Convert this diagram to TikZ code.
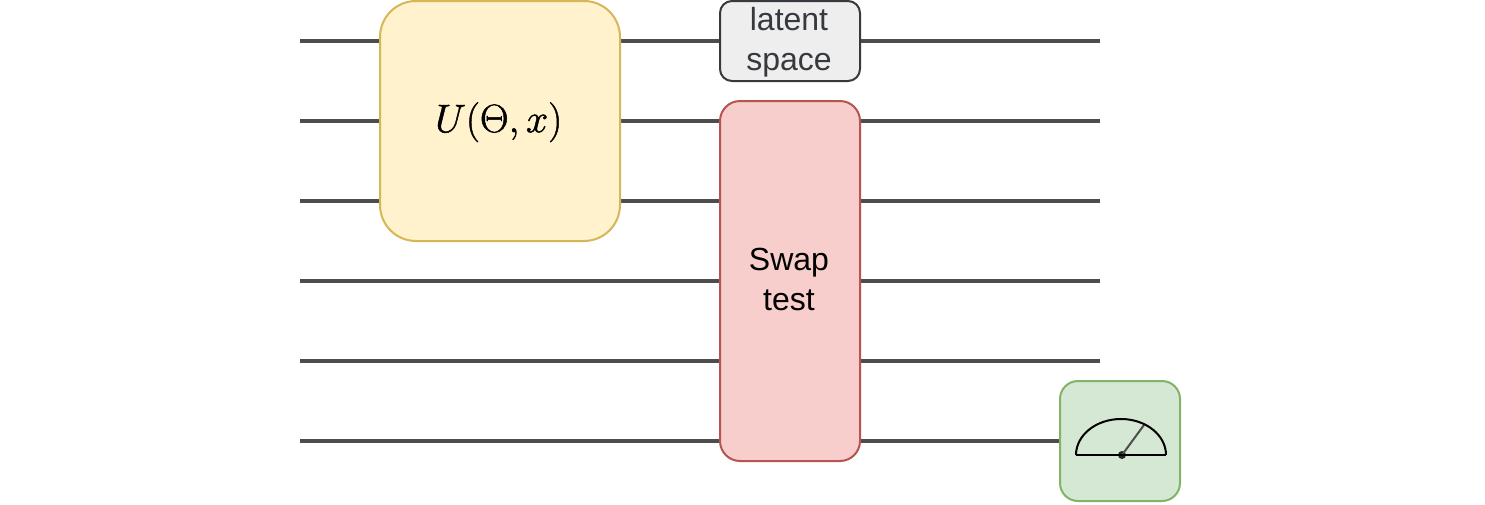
\documentclass[tikz,border=0pt]{standalone}
\usepackage{fontspec}
\setmainfont{Liberation Sans}
\usetikzlibrary{backgrounds}
\definecolor{wirecol}{HTML}{4D4D4D}
\definecolor{gatefill}{HTML}{FFF2CC}
\definecolor{gateline}{HTML}{D6B656}
\definecolor{swapfill}{HTML}{F8CECC}
\definecolor{swapline}{HTML}{B85450}
\definecolor{measfill}{HTML}{D5E8D4}
\definecolor{measline}{HTML}{82B366}
\definecolor{latentfill}{HTML}{EEEEEE}
\definecolor{latentline}{HTML}{36393D}
\tikzset{
  wire/.style={draw=wirecol, line width=3pt},
  box/.style={draw, line width=1.5pt, outer sep=0pt, inner sep=0pt},
  boxtext/.style={inner sep=0pt, align=center, font=\fontsize{24}{30}\selectfont},
}
\newcommand{\qwire}[1]{
  \coordinate (in#1) at (300, #1);
  \coordinate (out#1) at (1100, #1);
  \draw[wire] (in#1) -- (out#1);}
\newcommand{\heavy}[1]{\special{pdf:code q 2 Tr 0.3 w}#1\special{pdf:code Q}}
\begin{document}
\begin{tikzpicture}[x=0.75pt, y=-0.75pt]
        \useasboundingbox (0,0) rectangle (1485,504);
        % gates
        \node[box, draw=gateline, fill=gatefill, minimum width=180pt, minimum height=180pt, rounded corners=27pt, label={[boxtext, scale=1.2, xshift=-0.75pt, yshift=-0.75pt]center:{\heavy{$U(\Theta, x)$}}}] (unitary) at (500,121) {};
        \node[box, draw=latentline, fill=latentfill, minimum width=105pt, minimum height=60pt, rounded corners=9pt, label={[boxtext, text=latentline, xshift=-0.75pt, yshift=-0.9pt]center:{latent\\space}}] (latent) at (790,41) {};
        \node[box, draw=swapline, fill=swapfill, minimum width=105pt, minimum height=270pt, rounded corners=15pt, label={[boxtext, xshift=-0.75pt, yshift=1.3pt]center:{Swap\\test}}] (swap) at (790,281) {};
        \node[box, draw=measline, fill=measfill, minimum width=90pt, minimum height=90pt, rounded corners=13.5pt] (meter) at (1120,441) {};
        % wires
        \begin{pgfonlayer}{background}
        \qwire{41}
        \qwire{121}
        \qwire{201}
        \qwire{281}
        \qwire{361}
        \coordinate (in441) at (300,441);
        \draw[wire] (in441) -- (meter.west);
        \end{pgfonlayer}
        % dial
        \coordinate (dialL) at (1076,455);
        \coordinate (dialR) at (1166,455);
        \coordinate (tip) at (1144,425);
        \node[circle, fill=black!85, minimum size=6pt, inner sep=0pt] (pivot) at (1122,455) {};
        \draw[wirecol, line width=1.5pt] (pivot.center) -- (tip);
        \draw[black, line width=1.5pt] (dialL) -- (dialR);
        \draw[black, line width=1.5pt] (dialL) arc[start angle=180, end angle=0, x radius=45, y radius=-36];
\end{tikzpicture}
\end{document}
